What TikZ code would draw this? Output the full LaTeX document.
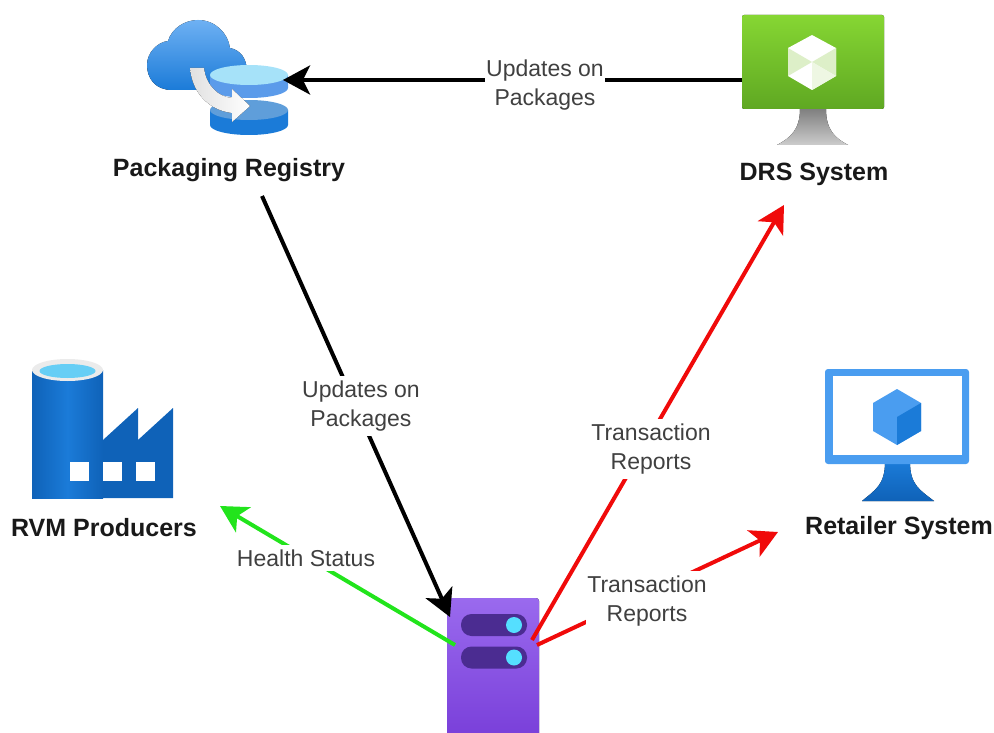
\documentclass[tikz,border=0pt]{standalone}
\usepackage{fontspec}
\setmainfont{Liberation Sans}
\usetikzlibrary{arrows.meta}
\definecolor{linkred}{HTML}{F00A0A}
\definecolor{linkgreen}{HTML}{22E41C}
\definecolor{azuredeep}{HTML}{0F62B8}
\definecolor{azuremid}{HTML}{1B7BD8}
\definecolor{azurelight}{HTML}{4A9DF0}
\definecolor{azuresky}{HTML}{5B9BEA}
\definecolor{drstop}{HTML}{86D633}
\definecolor{drsbottom}{HTML}{5FA822}
\definecolor{drspale}{HTML}{DDEFC8}
\definecolor{srvtopc}{HTML}{9A6AEE}
\definecolor{srvbottomc}{HTML}{7438D6}
\definecolor{srvpill}{HTML}{4B2C91}
\definecolor{srvlamp}{HTML}{55DFFF}
\begin{document}
\begin{tikzpicture}[x=1pt,y=-1pt,
    link/.style={line width=4pt,-{Stealth[length=27pt,width=29pt,inset=7pt]}},
    edgelabel/.style={fill=white,align=center,font=\fontsize{23}{29}\selectfont,text=black!75,inner xsep=1pt,inner ysep=5pt},
    iconlabel/.style={font=\fontsize{25}{30}\selectfont\bfseries,text=black!90}]
    \useasboundingbox (0,0) rectangle (994,733);
    \clip (0,0) rectangle (994,733);

    % Packaging registry icon
    \fill[top color=azurelight!80!white,bottom color=azuremid]
        (172,90) .. controls (155,90) and (147,78) .. (147,65)
        .. controls (147,52) and (158,42) .. (168,41)
        .. controls (172,28) and (185,20) .. (198,20)
        .. controls (215,20) and (228,33) .. (230,48)
        .. controls (240,50) and (247,58) .. (247,72) -- (247,90) -- cycle;
    \fill[azuremid] (210,110) -- (210,125) arc[start angle=180,end angle=0,x radius=39,y radius=10] -- (288,110) -- cycle;
    \fill[cyan!60!blue!65!white] (249,110) ellipse[x radius=39,y radius=10];
    \fill[azuresky] (210,75) -- (210,88) arc[start angle=180,end angle=0,x radius=39,y radius=10] -- (288,75) -- cycle;
    \fill[cyan!35!white] (249,75) ellipse[x radius=39,y radius=10];
    \fill[left color=black!12,right color=white]
        (190,68) -- (204,68) .. controls (206,85) and (218,97) .. (232,98)
        -- (232,89) -- (250,106) -- (232,122) -- (232,113)
        .. controls (208,110) and (192,92) .. (190,68) -- cycle;
    \coordinate (pkgport) at (283,80);
    \node[iconlabel] (pkglabel) at (229,170) {Packaging Registry};

    % DRS system icon
    \fill[top color=black!50,bottom color=black!20]
        (800,109) -- (826,109) .. controls (826,130) and (835,138) .. (848,145)
        -- (777,145) .. controls (790,138) and (800,130) .. (800,109) -- cycle;
    \fill[rounded corners=2pt,top color=drstop,bottom color=drsbottom]
        (742,15) rectangle (884,109);
    \fill[white] (812,35) -- (836,48) -- (836,76) -- (812,90) -- (788,76) -- (788,48) -- cycle;
    \fill[drspale] (788,48) -- (812,62) -- (788,76) -- cycle;
    \fill[drspale] (812,62) -- (836,48) -- (836,76) -- cycle;
    \fill[drspale!50!white] (812,62) -- (836,76) -- (812,90) -- cycle;
    \coordinate (drsport) at (742,80);
    \node[iconlabel] (drslabel) at (814,174) {DRS System};

    % RVM producers icon
    \fill[azuredeep] (103,440) -- (138,408) -- (138,440) -- (173,408) -- (173,498) -- (100,498) -- (100,440) -- cycle;
    \fill[left color=azuredeep,right color=azuredeep,middle color=azuremid] (32,370) rectangle (103,498);
    \fill[black!8] (67.5,370) ellipse[x radius=35.5,y radius=11];
    \fill[cyan!60!white] (67.5,371) ellipse[x radius=28,y radius=7];
    \foreach \winx in {70,103,136}
        \fill[white] (\winx,462) rectangle ++(19,19);
    \node[iconlabel] (rvmlabel) at (104,528) {RVM Producers};

    % Retailer system icon
    \fill[top color=azuremid,bottom color=azuredeep]
        (885,462) -- (910,462) .. controls (910,485) and (920,490) .. (934,501)
        -- (862,501) .. controls (875,490) and (885,485) .. (885,462) -- cycle;
    \fill[azurelight,rounded corners=3pt] (825,369) rectangle (969,464);
    \fill[white] (833,376) rectangle (962,455);
    \fill[azurelight] (897,389) -- (921,403) -- (921,431) -- (897,445) -- (873,431) -- (873,403) -- cycle;
    \fill[azuremid] (897,417) -- (921,403) -- (921,431) -- (897,445) -- cycle;
    \node[iconlabel] (retaillabel) at (899,528) {Retailer System};

    % Server icon
    \fill[rounded corners=3pt,top color=srvtopc,bottom color=srvbottomc]
        (447,598) rectangle (539,760);
    \foreach \pilly in {625,657.5} {
        \fill[srvpill,rounded corners=10.5pt] (461,\pilly-11) rectangle (527,\pilly+11);
        \fill[srvlamp] (514,\pilly) circle[radius=8];
    }
    \coordinate (srvtop) at (450,617);
    \coordinate (srvleft) at (455,645);
    \coordinate (srvdrs) at (532,640);
    \coordinate (srvretail) at (537,645);

    % Free ends of the arrows
    \coordinate (pkgfoot) at (262,196);
    \coordinate (drsfoot) at (784,205);
    \coordinate (rvmfoot) at (220,506);
    \coordinate (retailfoot) at (778,532);

    % Links
    \draw[link,black] (drsport) -- (pkgport);
    \draw[link,black] (pkgfoot) -- (srvtop);
    \draw[link,linkgreen] (srvleft) -- (rvmfoot);
    \draw[link,linkred] (srvdrs) -- (drsfoot);
    \draw[link,linkred] (srvretail) -- (retailfoot);

    % Link labels
    \node[edgelabel] (updtop) at (545,85) {Updates on\\Packages};
    \node[edgelabel] (updmid) at (361,406) {Updates on\\Packages};
    \node[edgelabel] (health) at (306,558) {Health Status};
    \node[edgelabel] (reportdrs) at (651,449) {Transaction\\Reports};
    \node[edgelabel] (reportretail) at (647,601) {Transaction\\Reports};
\end{tikzpicture}
\end{document}
